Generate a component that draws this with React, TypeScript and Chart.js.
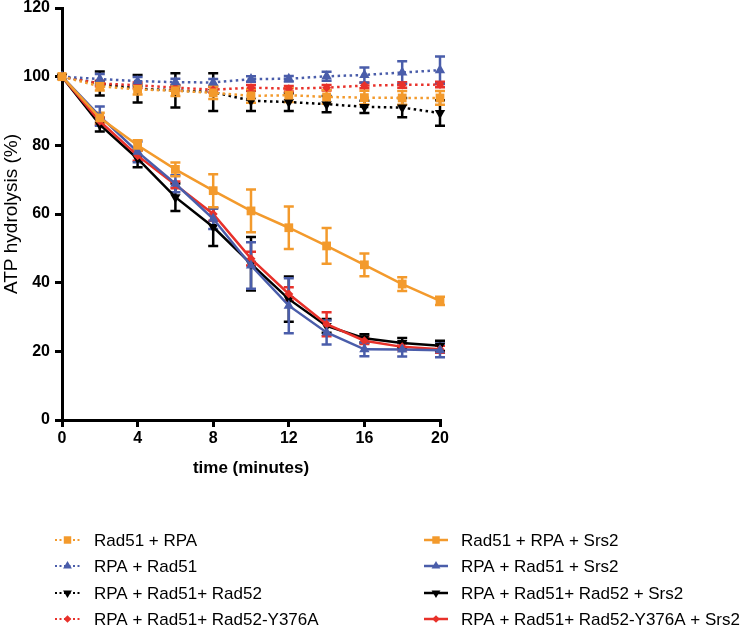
import React, { useEffect, useRef } from 'react';
import { Chart, registerables } from 'chart.js';
import { drawPoint } from 'chart.js/helpers';

Chart.register(...registerables);

const time = [0, 2, 4, 6, 8, 10, 12, 14, 16, 18, 20];
const xTicks = [0, 4, 8, 12, 16, 20];
const yTicks = [0, 20, 40, 60, 80, 100, 120];

const rad51Rpa = [100, 97.2, 96.3, 95.9, 95.3, 94.4, 94.6, 94.1, 93.9, 93.8, 93.8];
const rad51RpaErr = [0, 1.2, 1.5, 1.5, 1.8, 2.0, 2.0, 2.0, 2.0, 2.0, 2.0];
const rpaRad51 = [100, 99.3, 98.7, 98.4, 98.3, 99.3, 99.4, 100.1, 100.5, 101.2, 101.9];
const rpaRad51Err = [0, 1.5, 1.2, 1.0, 1.0, 0.8, 0.8, 1.3, 2.2, 3.3, 4.0];
const rpaRad51Rad52 = [100, 98.0, 96.5, 96.0, 95.5, 93.0, 92.6, 92.0, 91.2, 91.0, 89.4];
const rpaRad51Rad52Err = [0, 3.5, 4.0, 5.0, 5.5, 3.0, 2.6, 2.4, 1.8, 2.8, 3.7];
const rpaRad51Y376A = [100, 98.0, 97.5, 96.8, 96.2, 96.8, 96.5, 96.8, 97.4, 97.6, 97.7];
const rpaRad51Y376AErr = [0, 0.8, 0.8, 0.8, 0.8, 0.8, 0.8, 0.8, 0.8, 0.8, 0.8];

const rad51RpaSrs2 = [100, 88.0, 80.0, 73.0, 66.8, 60.9, 56.0, 50.7, 45.2, 39.6, 34.7];
const rad51RpaSrs2Err = [0, 1.5, 1.5, 2.0, 4.8, 6.2, 6.2, 5.2, 3.3, 2.0, 1.2];
const rpaRad51Srs2 = [100, 88.5, 78.1, 68.8, 58.6, 45.0, 33.3, 25.5, 20.6, 20.5, 20.3];
const rpaRad51Srs2Err = [0, 2.8, 3.0, 2.5, 3.0, 6.8, 8.0, 3.5, 2.0, 2.0, 2.0];
const rpaRad51Rad52Srs2 = [100, 86.0, 76.1, 64.9, 56.2, 45.5, 35.2, 27.4, 23.8, 22.4, 21.6];
const rpaRad51Rad52Srs2Err = [0, 2.0, 2.5, 4.0, 5.5, 7.8, 6.6, 2.0, 1.2, 1.5, 1.5];
const rpaRad51Y376ASrs2 = [100, 87.0, 77.0, 68.5, 60.0, 47.0, 36.7, 27.9, 23.1, 21.3, 20.6];
const rpaRad51Y376ASrs2Err = [0, 1.0, 1.5, 1.0, 2.0, 2.0, 2.0, 3.5, 1.0, 1.0, 1.0];

const ORANGE = '#F39A2C';
const BLUE = '#4A5DAA';
const BLACK = '#000000';
const RED = '#E8312A';

type Series = {
  label: string;
  values: number[];
  err: number[];
  color: string;
  dotted: boolean;
  style: string;
  rotation: number;
  radius: number;
};

const seriesList: Series[] = [
  { label: 'Rad51 + RPA', values: rad51Rpa, err: rad51RpaErr, color: ORANGE, dotted: true, style: 'rect', rotation: 0, radius: 6.2 },
  { label: 'RPA + Rad51', values: rpaRad51, err: rpaRad51Err, color: BLUE, dotted: true, style: 'triangle', rotation: 0, radius: 6 },
  { label: 'RPA + Rad51+ Rad52-Y376A', values: rpaRad51Y376A, err: rpaRad51Y376AErr, color: RED, dotted: true, style: 'rectRot', rotation: 0, radius: 4.5 },
  { label: 'RPA + Rad51+ Rad52', values: rpaRad51Rad52, err: rpaRad51Rad52Err, color: BLACK, dotted: true, style: 'triangle', rotation: 180, radius: 6 },
  { label: 'Rad51 + RPA + Srs2', values: rad51RpaSrs2, err: rad51RpaSrs2Err, color: ORANGE, dotted: false, style: 'rect', rotation: 0, radius: 6.2 },
  { label: 'RPA + Rad51 + Srs2', values: rpaRad51Srs2, err: rpaRad51Srs2Err, color: BLUE, dotted: false, style: 'triangle', rotation: 0, radius: 6 },
  { label: 'RPA + Rad51+ Rad52-Y376A + Srs2', values: rpaRad51Y376ASrs2, err: rpaRad51Y376ASrs2Err, color: RED, dotted: false, style: 'rectRot', rotation: 0, radius: 4.5 },
  { label: 'RPA + Rad51+ Rad52 + Srs2', values: rpaRad51Rad52Srs2, err: rpaRad51Rad52Srs2Err, color: BLACK, dotted: false, style: 'triangle', rotation: 180, radius: 6 },
];

const legendLeft = ['Rad51 + RPA', 'RPA + Rad51', 'RPA + Rad51+ Rad52', 'RPA + Rad51+ Rad52-Y376A'];
const legendRight = ['Rad51 + RPA + Srs2', 'RPA + Rad51 + Srs2', 'RPA + Rad51+ Rad52 + Srs2', 'RPA + Rad51+ Rad52-Y376A + Srs2'];

const FONT = "'Liberation Sans', Arial, Helvetica, sans-serif";

const errorBarPlugin = {
  id: 'errorBars',
  beforeDatasetsDraw(chart: any) {
    const ctx = chart.ctx;
    const xs = chart.scales.x;
    const ys = chart.scales.y;
    for (let i = chart.data.datasets.length - 1; i >= 0; i--) {
      const ds: any = chart.data.datasets[i];
      const errs: number[] = ds.errors;
      ctx.save();
      ctx.strokeStyle = ds.borderColor;
      ctx.lineWidth = 2.5;
      ctx.setLineDash([]);
      ds.data.forEach((p: any, j: number) => {
        const e = errs[j];
        if (!e) return;
        const x = xs.getPixelForValue(p.x);
        const y1 = ys.getPixelForValue(p.y + e);
        const y2 = ys.getPixelForValue(p.y - e);
        ctx.beginPath();
        ctx.moveTo(x, y1);
        ctx.lineTo(x, y2);
        ctx.moveTo(x - 5, y1);
        ctx.lineTo(x + 5, y1);
        ctx.moveTo(x - 5, y2);
        ctx.lineTo(x + 5, y2);
        ctx.stroke();
      });
      ctx.restore();
    }
  },
};

const legendPlugin = {
  id: 'customLegend',
  afterDraw(chart: any) {
    const ctx = chart.ctx;
    const rows = [540, 566, 593, 619];
    const cols = [
      { lineX0: 55, lineX1: 80, textX: 94, names: legendLeft },
      { lineX0: 424, lineX1: 448, textX: 461, names: legendRight },
    ];
    cols.forEach((col) => {
      col.names.forEach((name, r) => {
        const s = seriesList.find((q) => q.label === name)!;
        const y = rows[r];
        ctx.save();
        ctx.strokeStyle = s.color;
        ctx.fillStyle = s.color;
        ctx.lineWidth = s.dotted ? 2 : 2.5;
        ctx.setLineDash(s.dotted ? [2, 2.5] : []);
        ctx.beginPath();
        ctx.moveTo(col.lineX0, y);
        ctx.lineTo(col.lineX1, y);
        ctx.stroke();
        ctx.setLineDash([]);
        const mx = (col.lineX0 + col.lineX1) / 2;
        drawPoint(ctx, { pointStyle: s.style as any, radius: s.radius * 0.85, rotation: s.rotation, borderWidth: 0 }, mx, y);
        ctx.fillStyle = '#000';
        ctx.font = `17px ${FONT}`;
        ctx.textBaseline = 'middle';
        ctx.textAlign = 'left';
        ctx.fillText(name, col.textX, y + 1);
        ctx.restore();
      });
    });
  },
};

export default function App() {
  const ref = useRef<HTMLCanvasElement>(null);

  useEffect(() => {
    document.body.style.margin = '0';
    const canvas = ref.current!;
    const datasets = seriesList.map((s) => ({
      label: s.label,
      data: time.map((t, i) => ({ x: t, y: s.values[i] })),
      errors: s.err,
      borderColor: s.color,
      backgroundColor: s.color,
      borderWidth: 2.5,
      borderDash: s.dotted ? [2.5, 3.5] : [],
      pointStyle: s.style,
      pointRotation: s.rotation,
      pointRadius: s.radius,
      pointBorderWidth: 0,
      pointBackgroundColor: s.color,
      tension: 0,
      fill: false,
      clip: false as any,
    }));

    const chart = new Chart(canvas, {
      type: 'line',
      data: { datasets: datasets as any },
      plugins: [errorBarPlugin, legendPlugin],
      options: {
        animation: false,
        responsive: false,
        devicePixelRatio: 1,
        layout: { padding: { top: 8, left: 0, right: 307, bottom: 154 } },
        plugins: { legend: { display: false }, tooltip: { enabled: false } },
        scales: {
          x: {
            type: 'linear',
            min: 0,
            max: 20,
            afterBuildTicks: (s: any) => { s.ticks = xTicks.map((v) => ({ value: v })); },
            afterFit: (s: any) => { s.height = 59; },
            ticks: { color: '#000', font: { family: FONT, size: 16, weight: 'bold' }, padding: 2 },
            grid: { drawOnChartArea: false, color: '#000', lineWidth: 3, tickLength: 7 },
            border: { color: '#000', width: 3 },
            title: { display: true, text: 'time (minutes)', color: '#000', font: { family: FONT, size: 17, weight: 'bold' }, padding: { top: 6, bottom: 0 } },
          },
          y: {
            min: 0,
            max: 120,
            afterBuildTicks: (s: any) => { s.ticks = yTicks.map((v) => ({ value: v })); },
            afterFit: (s: any) => { s.width = 62; s.paddingTop = 0; s.paddingBottom = 0; },
            ticks: { color: '#000', font: { family: FONT, size: 16, weight: 'bold' }, padding: 5 },
            grid: { drawOnChartArea: false, color: '#000', lineWidth: 3, tickLength: 7 },
            border: { color: '#000', width: 3 },
            title: { display: true, text: 'ATP hydrolysis (%)', color: '#000', font: { family: FONT, size: 19, weight: 'normal' }, padding: { top: 0, bottom: 0 } },
          },
        },
      } as any,
    });
    return () => chart.destroy();
  }, []);

  return (
    <div style={{ width: 747, height: 633 }}>
      <canvas ref={ref} width={747} height={633} />
    </div>
  );
}
